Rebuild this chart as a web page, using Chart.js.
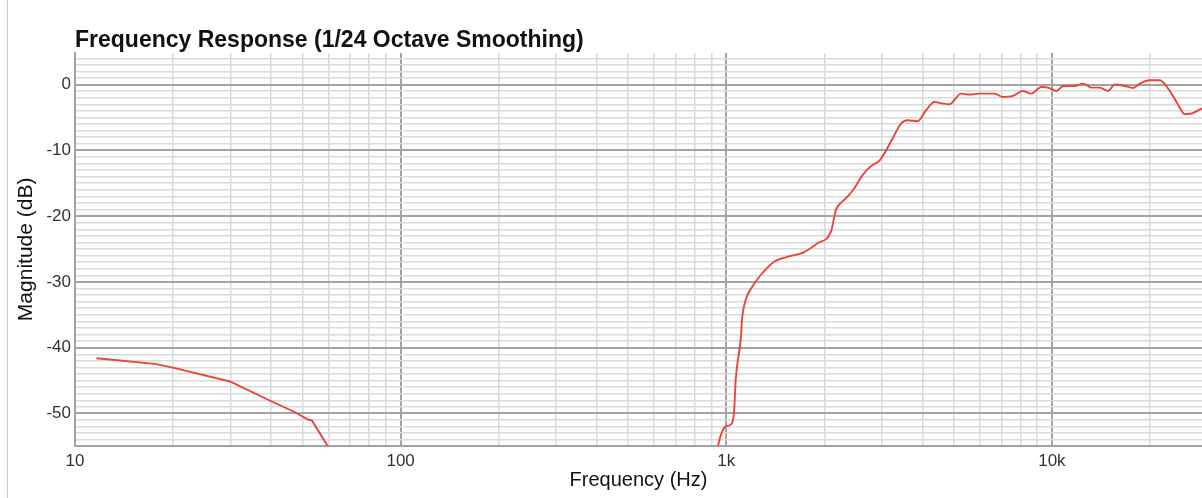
<!DOCTYPE html>
<html>
<head>
<meta charset="utf-8">
<script src="https://cdn.jsdelivr.net/npm/chart.js@4/dist/chart.umd.min.js"></script>
<style>
  html, body { margin: 0; padding: 0; background: #fff; }
  #wrap { position: relative; width: 1202px; height: 498px; }
  #edge { position: absolute; left: 7px; top: 0; width: 1px; height: 498px; background: #c8c8c8; }
</style>
</head>
<body>
<div id="wrap">
  <canvas id="chart" width="1202" height="498"></canvas>
  <div id="edge"></div>
</div>
<script>
// low frequency part (Hz, dB)
const lowFreq = [11.64, 17.59, 20.27, 29.92, 40.2, 46.87, 52.12, 53.4, 59.36, 62];
const lowDb = [-41.6, -42.46, -43.1, -45.14, -48.18, -49.7, -50.96, -51.06, -54.75, -58];

// high frequency part (Hz, dB)
const highFreq = [930, 945, 972, 996, 1032, 1056, 1069, 1107, 1120, 1147, 1202, 1276, 1402, 1523, 1734,
  1905, 2096, 2171, 2249, 2330, 2471, 2622, 2782, 2950, 3057, 3242, 3440, 3606, 3870, 4108,
  4357, 4619, 4845, 5264, 5582, 5991, 6664, 7066, 7586, 8143, 8643, 9278, 9721, 10316, 10809,
  11743, 12457, 13222, 14026, 14874, 15597, 16738, 17753, 18616, 19976, 21450, 22750, 24140,
  25610, 26850, 28830, 29500];
const highDb = [-57, -54.75, -52.73, -51.97, -51.7, -49.94, -44.88, -38.8, -35.28, -32.74, -30.72, -28.95, -26.93, -26.26, -25.46,
  -24.13, -22.37, -19.08, -17.97, -17.3, -15.79, -13.77, -12.4, -11.6, -10.47, -8.2, -5.92, -5.42, -5.57, -3.9,
  -2.64, -2.88, -2.99, -1.37, -1.52, -1.37, -1.37, -1.88, -1.73, -0.97, -1.37, -0.36, -0.46, -0.97, -0.26,
  -0.21, 0.15, -0.46, -0.46, -0.97, 0, -0.21, -0.52, 0.15, 0.65, 0.65, -0.61, -2.64,
  -4.51, -4.4, -3.64, -3.4];

const xMajor = [10, 100, 1000, 10000];
const xMajorLabels = ['10', '100', '1k', '10k'];
const yMajor = [0, -10, -20, -30, -40, -50];

const X_MIN = 10, X_MAX = 28900;
const Y_MIN = -54.9, Y_MAX = 4.8;

const lowPoints = lowFreq.map((f, i) => ({ x: f, y: lowDb[i] }));
const highPoints = highFreq.map((f, i) => ({ x: f, y: highDb[i] }));

const MAJOR = '#a3a3a3', MINOR = '#dadada';
const RED = '#e8463a';
const font = "Helvetica, 'Liberation Sans', Arial, sans-serif";

const titlePlugin = {
  id: 'topTitle',
  afterDraw(chart) {
    const ctx = chart.ctx;
    ctx.save();
    ctx.font = "bold 23px " + font;
    ctx.fillStyle = '#111';
    ctx.textBaseline = 'alphabetic';
    ctx.fillText('Frequency Response (1/24 Octave Smoothing)', chart.chartArea.left, 47);
    ctx.restore();
  }
};

new Chart(document.getElementById('chart'), {
  type: 'line',
  data: {
    datasets: [{
      data: lowPoints,
      borderColor: RED,
      borderWidth: 1.9,
      pointRadius: 0,
      fill: false,
      tension: 0
    }, {
      data: highPoints,
      borderColor: RED,
      borderWidth: 1.9,
      pointRadius: 0,
      fill: false,
      cubicInterpolationMode: 'monotone'
    }]
  },
  options: {
    responsive: false,
    animation: false,
    layout: { padding: { left: 0, right: 0, top: 53, bottom: 0 } },
    plugins: { legend: { display: false }, tooltip: { enabled: false } },
    scales: {
      x: {
        type: 'logarithmic',
        min: X_MIN,
        max: X_MAX,
        afterBuildTicks: axis => {
          const t = [];
          for (let d = 10; d <= 10000; d *= 10) {
            for (let m = 1; m <= 9; m++) {
              if (d * m <= X_MAX) t.push({ value: d * m });
            }
          }
          axis.ticks = t;
        },
        afterFit: s => { s.height = 52.3; },
        ticks: {
          autoSkip: false,
          maxRotation: 0,
          padding: 5,
          color: '#333',
          font: { family: font, size: 17 },
          callback: v => {
            const i = xMajor.indexOf(v);
            return i >= 0 ? xMajorLabels[i] : '';
          }
        },
        grid: {
          drawTicks: false,
          color: c => xMajor.includes(c.tick && c.tick.value) ? MAJOR : MINOR,
          lineWidth: c => xMajor.includes(c.tick && c.tick.value) ? 2 : 1.5
        },
        border: { color: MAJOR, width: 2 },
        title: {
          display: true,
          text: 'Frequency (Hz)',
          color: '#111',
          font: { family: font, size: 20 },
          padding: { bottom: 6 }
        }
      },
      y: {
        min: Y_MIN,
        max: Y_MAX,
        afterBuildTicks: axis => {
          const t = [];
          for (let v = -54; v <= 4; v++) t.push({ value: v });
          axis.ticks = t;
        },
        afterFit: s => { s.width = 75; },
        ticks: {
          autoSkip: false,
          padding: 4,
          color: '#333',
          font: { family: font, size: 17 },
          callback: v => yMajor.includes(v) ? String(v) : ''
        },
        grid: {
          drawTicks: false,
          color: c => yMajor.includes(c.tick && c.tick.value) ? MAJOR : MINOR,
          lineWidth: c => yMajor.includes(c.tick && c.tick.value) ? 2 : 1.5
        },
        border: { color: MAJOR, width: 2 },
        title: {
          display: true,
          text: 'Magnitude (dB)',
          color: '#111',
          font: { family: font, size: 21 },
          padding: { top: 14 }
        }
      }
    }
  },
  plugins: [titlePlugin]
});
</script>
</body>
</html>
